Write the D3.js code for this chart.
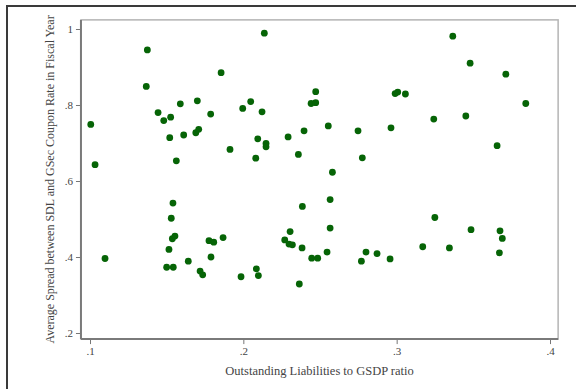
<!DOCTYPE html>
<head>
<meta charset="utf-8">
<title>Spread vs liabilities</title>
<style>
  body { margin: 0; background: #fff; }
  text { font-family: "Liberation Serif", "DejaVu Serif", serif; fill: #444; }
  .axis text { font-size: 11px; }
  .axis line { stroke: #777; }
</style>
</head>
<body>
<svg width="576" height="389"></svg>
<script src="https://d3js.org/d3.v7.min.js"></script>
<script>

// liabilities to GSDP ratio (x) and average spread (y)
var ratio = [
  0.1005, 0.1033, 0.1098, 0.1374, 0.1367, 0.1444, 0.1481, 0.1526, 0.1589, 0.1520,
  0.1611, 0.1563, 0.1700, 0.1690, 0.1709, 0.1787, 0.1855, 0.1913, 0.1996, 0.2048,
  0.2122, 0.2137, 0.2094, 0.2148, 0.2148, 0.2081, 0.2292, 0.2396, 0.2359, 0.2472,
  0.2442, 0.2472, 0.2554, 0.2581, 0.2748, 0.2776, 0.2990, 0.3007, 0.3057, 0.2963,
  0.3242, 0.3366, 0.3479, 0.3451, 0.3712, 0.3842, 0.3655,
  0.1541, 0.1530, 0.1537, 0.1554, 0.1515, 0.1500, 0.1543, 0.1641, 0.1718, 0.1735,
  0.1776, 0.1807, 0.1789, 0.1868, 0.1985, 0.2085, 0.2098, 0.2305, 0.2270, 0.2298,
  0.2320, 0.2385, 0.2383, 0.2365, 0.2446, 0.2485, 0.2546, 0.2566, 0.2566, 0.2770,
  0.2800, 0.2872, 0.2957, 0.3170, 0.3249, 0.3344, 0.3485, 0.3674, 0.3689, 0.3670
];
var spread = [
  0.749, 0.643, 0.396, 0.945, 0.849, 0.780, 0.759, 0.768, 0.803, 0.714,
  0.721, 0.653, 0.811, 0.727, 0.736, 0.776, 0.885, 0.683, 0.791, 0.809,
  0.782, 0.989, 0.711, 0.699, 0.690, 0.660, 0.716, 0.732, 0.670, 0.835,
  0.804, 0.806, 0.745, 0.623, 0.732, 0.661, 0.830, 0.834, 0.829, 0.740,
  0.763, 0.981, 0.910, 0.771, 0.881, 0.804, 0.693,
  0.542, 0.502, 0.448, 0.455, 0.420, 0.373, 0.373, 0.389, 0.363, 0.353,
  0.443, 0.439, 0.400, 0.451, 0.348, 0.369, 0.351, 0.467, 0.445, 0.434,
  0.432, 0.533, 0.424, 0.329, 0.397, 0.397, 0.413, 0.551, 0.476, 0.389,
  0.413, 0.409, 0.395, 0.427, 0.504, 0.424, 0.472, 0.469, 0.449, 0.411
];
var xTicks = [0.1, 0.2, 0.3, 0.4];
var yTicks = [0.2, 0.4, 0.6, 0.8, 1];
var xTitle = "Outstanding Liabilities to GSDP ratio";
var yTitle = "Average Spread between SDL and GSec Coupon Rate in Fiscal Year";

var svg = d3.select("svg");

var x = d3.scaleLinear().domain([0.1, 0.4]).range([90, 550]),
    y = d3.scaleLinear().domain([0.2, 1]).range([333, 29]);

// plot region reaches a bit past the outer ticks
var xLo = 0.0941, xHi = 0.4053, yLo = 0.184, yHi = 1.024;

// outer frame (only top and left show in the picture)
svg.append("rect")
    .attr("x", 7).attr("y", 6)
    .attr("width", 620).attr("height", 420)
    .attr("fill", "none")
    .attr("stroke", "#3a3a3a")
    .attr("stroke-width", 2);

// plot region box
svg.append("rect")
    .attr("x", x(xLo)).attr("y", y(yHi))
    .attr("width", x(xHi) - x(xLo))
    .attr("height", y(yLo) - y(yHi))
    .attr("fill", "#fff")
    .attr("stroke", "#b4b4b4")
    .attr("stroke-width", 1.5);

var fmt = function(d) { return d === 1 ? "1" : d3.format(".1f")(d).replace(/^0/, ""); };

svg.append("g")
    .attr("class", "axis")
    .attr("transform", "translate(" + x(xLo) + ",0)")
    .call(d3.axisLeft(y).tickValues(yTicks).tickFormat(fmt).tickSize(5).tickPadding(3))
    .call(function(g) { g.select(".domain").remove(); });

svg.append("g")
    .attr("class", "axis")
    .attr("transform", "translate(0," + y(yLo) + ")")
    .call(d3.axisBottom(x).tickValues(xTicks).tickFormat(fmt).tickSize(5).tickPadding(3))
    .call(function(g) { g.select(".domain").remove(); });

// darker axis lines on left and bottom
svg.append("line")
    .attr("x1", x(xLo)).attr("x2", x(xLo))
    .attr("y1", y(yHi)).attr("y2", y(yLo))
    .attr("stroke", "#7a7a7a").attr("stroke-width", 2);
svg.append("line")
    .attr("x1", x(xLo)).attr("x2", x(xHi))
    .attr("y1", y(yLo)).attr("y2", y(yLo))
    .attr("stroke", "#7a7a7a").attr("stroke-width", 2);

svg.append("g")
    .selectAll("circle")
    .data(d3.range(ratio.length))
    .enter().append("circle")
    .attr("cx", function(i) { return x(ratio[i]); })
    .attr("cy", function(i) { return y(spread[i]); })
    .attr("r", 3.4)
    .attr("fill", "#066406");

svg.append("text")
    .attr("x", (x(xLo) + x(xHi)) / 2)
    .attr("y", 375)
    .attr("text-anchor", "middle")
    .style("font-size", "12.5px")
    .text(xTitle);

svg.append("text")
    .attr("transform", "translate(54," + (y(yLo) + y(yHi)) / 2 + ") rotate(-90)")
    .attr("text-anchor", "middle")
    .style("font-size", "12px")
    .text(yTitle);

</script>
</body>
